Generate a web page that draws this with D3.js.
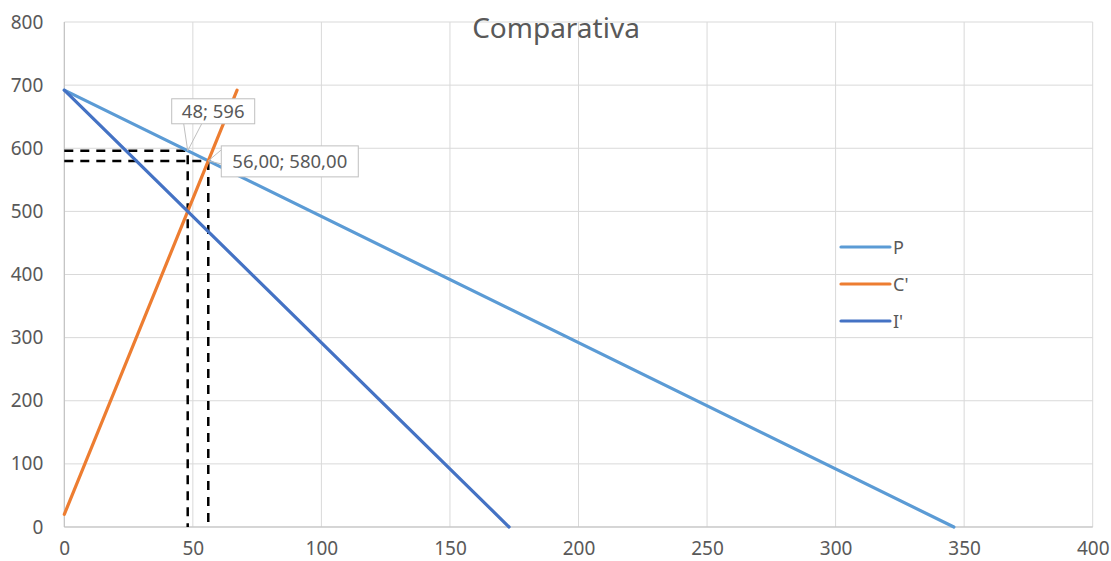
<!DOCTYPE html>
<html><head><meta charset="utf-8">
<script src="https://cdn.jsdelivr.net/npm/d3@7"></script>
<style>body{margin:0;background:#fff;} text{font-family:"Noto Sans","Open Sans",sans-serif;fill:#595959;}</style>
</head><body>
<svg id="c" width="1111" height="561"></svg>
<script>
const title = "Comparativa";
const xTicks = [0,50,100,150,200,250,300,350,400];
const yTicks = [0,100,200,300,400,500,600,700,800];
const seriesNames = ["P","C'","I'"];
const seriesColors = ["#5B9BD5","#ED7D31","#4472C4"];
const pX = [0,346], pY = [692,0];
const cX = [0,67.2], cY = [20,692];
const iX = [0,173], iY = [692,0];
const markX = [48,56], markY = [596,580];
const markLabels = ["48; 596","56,00; 580,00"];

const svg = d3.select("#c");
const x = d3.scaleLinear().domain([0,400]).range([64.3,1092.7]);
const y = d3.scaleLinear().domain([0,800]).range([527,22]);

// gridlines
svg.append("g").selectAll("line").data(xTicks).join("line")
  .attr("x1",d=>x(d)).attr("x2",d=>x(d)).attr("y1",y(0)).attr("y2",y(800))
  .attr("stroke","#d9d9d9").attr("stroke-width",1);
svg.append("g").selectAll("line").data(yTicks).join("line")
  .attr("x1",x(0)).attr("x2",x(400)).attr("y1",d=>y(d)).attr("y2",d=>y(d))
  .attr("stroke","#d9d9d9").attr("stroke-width",1);
// axis lines
svg.append("line").attr("x1",x(0)).attr("x2",x(400)).attr("y1",y(0)).attr("y2",y(0)).attr("stroke","#bfbfbf");
svg.append("line").attr("x1",x(0)).attr("x2",x(0)).attr("y1",y(0)).attr("y2",y(800)).attr("stroke","#bfbfbf");

// axes labels via d3 axes
const ax = svg.append("g").attr("transform",`translate(0,${y(0)})`)
  .call(d3.axisBottom(x).tickValues(xTicks).tickSize(0).tickPadding(15));
const ay = svg.append("g").attr("transform",`translate(${x(0)},0)`)
  .call(d3.axisLeft(y).tickValues(yTicks).tickSize(0).tickPadding(21));
[ax,ay].forEach(g=>{g.select(".domain").remove();
  g.selectAll("text").attr("font-size",19).attr("fill","#595959").style("font-family",'"Noto Sans",sans-serif');});

// title
svg.append("text").attr("x",556).attr("y",38).attr("text-anchor","middle")
  .attr("font-size",28).text(title);

// dashed guides
markX.forEach((mx,i)=>{
  const my = markY[i];
  svg.append("path").attr("d",`M${x(0)},${y(my)}H${x(mx)}V${y(0)}`)
    .attr("fill","none").attr("stroke","#000").attr("stroke-width",2.5).attr("stroke-dasharray","9,7");
});

// series
const line = d3.line().x(d=>x(d[0])).y(d=>y(d[1]));
const data = [d3.zip(pX,pY), d3.zip(cX,cY), d3.zip(iX,iY)];
data.forEach((d,i)=>{
  svg.append("path").attr("d",line(d)).attr("fill","none")
    .attr("stroke",seriesColors[i]).attr("stroke-width",3.2).attr("stroke-linecap","round");
});

// data labels (callouts)
const lab1 = {px:x(markX[0]), py:y(markY[0])};
{
  const bx = lab1.px-16, by = lab1.py-52, bw=83, bh=25;
  svg.append("path").attr("d",`M${lab1.px},${lab1.py}L${bx+12},${by+bh}M${lab1.px},${lab1.py}L${bx+30},${by+bh}`)
    .attr("stroke","#bfbfbf").attr("fill","none");
  svg.append("rect").attr("x",bx).attr("y",by).attr("width",bw).attr("height",bh)
    .attr("fill","#fff").attr("stroke","#bfbfbf");
  svg.append("text").attr("x",bx+bw/2).attr("y",by+bh/2+6.5).attr("text-anchor","middle").attr("font-size",18.5).text(markLabels[0]);
}
const lab2 = {px:x(markX[1]), py:y(markY[1])};
{
  const bx = lab2.px+13, by = lab2.py-15, bw=137, bh=31;
  svg.append("path").attr("d",`M${lab2.px},${lab2.py}L${bx},${by+4}M${lab2.px},${lab2.py}L${bx},${by+18}`)
    .attr("stroke","#bfbfbf").attr("fill","none");
  svg.append("rect").attr("x",bx).attr("y",by).attr("width",bw).attr("height",bh)
    .attr("fill","#fff").attr("stroke","#bfbfbf");
  svg.append("text").attr("x",bx+bw/2).attr("y",by+bh/2+6.5).attr("text-anchor","middle").attr("font-size",18.5).text(markLabels[1]);
}

// legend
const lg = svg.append("g");
seriesNames.forEach((n,i)=>{
  const ly = 247 + i*37;
  lg.append("line").attr("x1",841).attr("x2",890).attr("y1",ly).attr("y2",ly)
    .attr("stroke",seriesColors[i]).attr("stroke-width",3.2).attr("stroke-linecap","round");
  lg.append("text").attr("x",893).attr("y",ly+6.5).attr("font-size",18).text(n);
});
</script>
</body></html>
